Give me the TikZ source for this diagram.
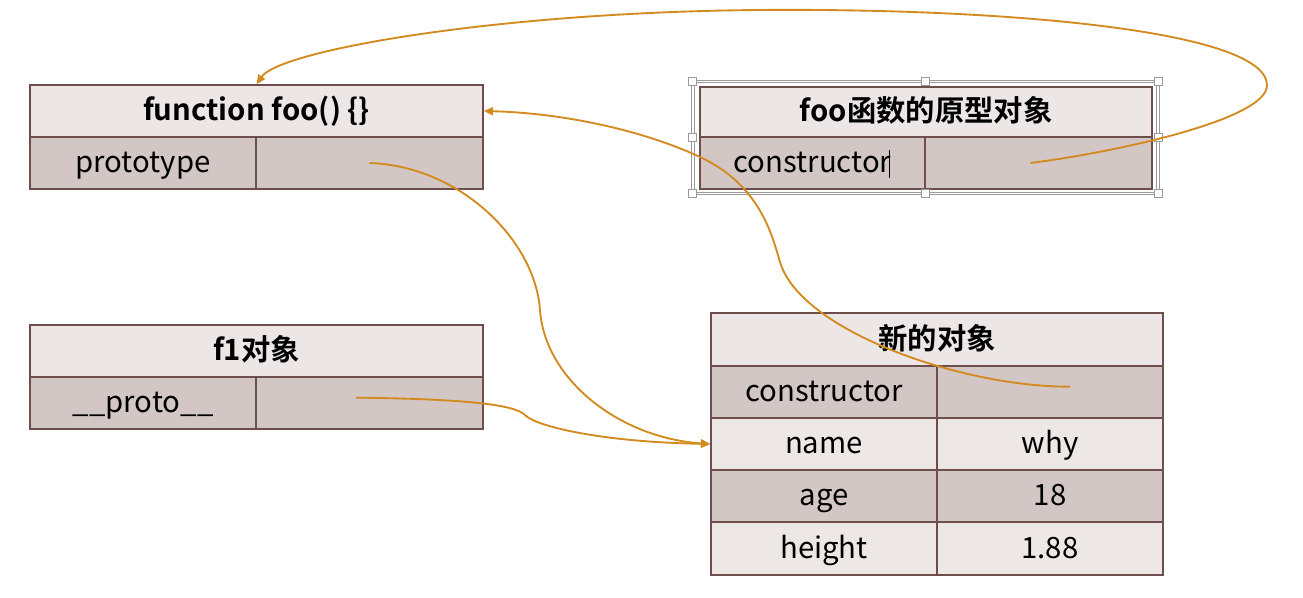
\documentclass[tikz,border=0pt]{standalone}
\usepackage{fontspec}
\newfontfamily\cjk{Noto Sans CJK SC}[BoldFont={Noto Sans CJK SC Bold}]
\usetikzlibrary{arrows.meta}
\definecolor{bord}{HTML}{6E4E4C}
\definecolor{hdfill}{HTML}{ECE6E6}
\definecolor{dkfill}{HTML}{D3C7C5}
\definecolor{ltfill}{HTML}{EDE7E6}
\definecolor{arr}{HTML}{D38A1E}
\definecolor{selgray}{HTML}{9A9A9A}
\def\u{0.75pt}
\tikzset{
  cellbase/.style={draw=bord, line width=1.1pt, inner sep=0pt, text height=17.8pt, text depth=3.4pt, font=\cjk\fontsize{22}{26}\selectfont},
  hd/.style={cellbase, fill=hdfill, font=\cjk\bfseries\fontsize{22}{26}\selectfont},
  dk/.style={cellbase, fill=dkfill},
  lt/.style={cellbase, fill=ltfill},
  link/.style={draw=arr, line width=1.4pt},
  tip/.style={-{Triangle[length=7pt,width=6pt]}},
  handle/.style={draw=selgray, fill=white, line width=0.6pt, minimum size=6pt, inner sep=0pt},
}
\begin{document}
\begin{tikzpicture}[x=0.75pt,y=-0.75pt]
\useasboundingbox (0,0) rectangle (1303,598);
% foo function box
\node[hd, minimum width=453*\u, minimum height=52*\u] (foohead) at (256.5,111) {function foo() \{\}};
\node[dk, minimum width=226*\u, minimum height=52*\u] (fooK) at (143,163) {prototype};
\node[dk, minimum width=227*\u, minimum height=52*\u] (fooV) at (369.5,163) {};
% prototype object box
\node[hd, minimum width=452*\u, minimum height=50*\u] (prohead) at (926,112) {foo函数的原型对象};
\node[dk, minimum width=225*\u, minimum height=52*\u] (proK) at (812.5,163) {constructor};
\node[dk, minimum width=227*\u, minimum height=52*\u] (proV) at (1038.5,163) {};
% selection frame
\node[draw=selgray, line width=0.6pt, double=white, double distance=1.2pt, minimum width=465*\u, minimum height=112*\u, inner sep=0pt] (sel) at (925.5,137.5) {};
\foreach \a in {north west,north,north east,west,east,south west,south,south east}
  \node[handle] at (sel.\a) {};
\draw[black, line width=0.7pt] (889,150) -- (889,178);
% f1 object box
\node[hd, minimum width=453*\u, minimum height=52*\u] (f1head) at (256.5,351) {f1对象};
\node[dk, minimum width=226*\u, minimum height=52*\u] (f1K) at (143,403) {\_\kern0.5pt\_proto\_\kern0.5pt\_};
\node[dk, minimum width=227*\u, minimum height=52*\u] (f1V) at (369.5,403) {};
% new object box
\node[hd, minimum width=452*\u, minimum height=53*\u] (newhead) at (937,339.5) {新的对象};
\node[dk, minimum width=226*\u, minimum height=52*\u] (consK) at (824,392) {constructor};
\node[dk, minimum width=226*\u, minimum height=52*\u] (consV) at (1050,392) {};
\node[lt, minimum width=226*\u, minimum height=52*\u] (nameK) at (824,444) {name};
\node[lt, minimum width=226*\u, minimum height=52*\u] (nameV) at (1050,444) {why};
\node[dk, minimum width=226*\u, minimum height=52*\u] (ageK) at (824,496) {age};
\node[dk, minimum width=226*\u, minimum height=52*\u] (ageV) at (1050,496) {18};
\node[lt, minimum width=226*\u, minimum height=53*\u] (hK) at (824,548.5) {height};
\node[lt, minimum width=226*\u, minimum height=53*\u] (hV) at (1050,548.5) {1.88};
% connectors
\draw[link, tip] ([xshift=-6pt]proV.center) .. controls +(80,-10) and (1268,120) .. (1267,85)
  .. controls (1266,30) and (1000,8) .. (760,10)
  .. controls (500,12) and (280,50) .. (foohead.north);
\draw[link, tip] ([xshift=15pt,yshift=4pt]consV.center) .. controls (960,387) and (800,330) .. (780,262)
  .. controls (772,235) and (760,185) .. (700,157)
  .. controls (640,129) and (560,113) .. (foohead.east);
\draw[link, tip] (fooV.center) .. controls (460,166) and (535,240) .. (540,310)
  .. controls (545,380) and (620,438) .. (nameK.west);
\draw[link, tip] ([xshift=-10pt,yshift=4pt]f1V.center) .. controls (470,399) and (515,405) .. (525,415)
  .. controls (535,426) and (600,442) .. (nameK.west);
\end{tikzpicture}
\end{document}
